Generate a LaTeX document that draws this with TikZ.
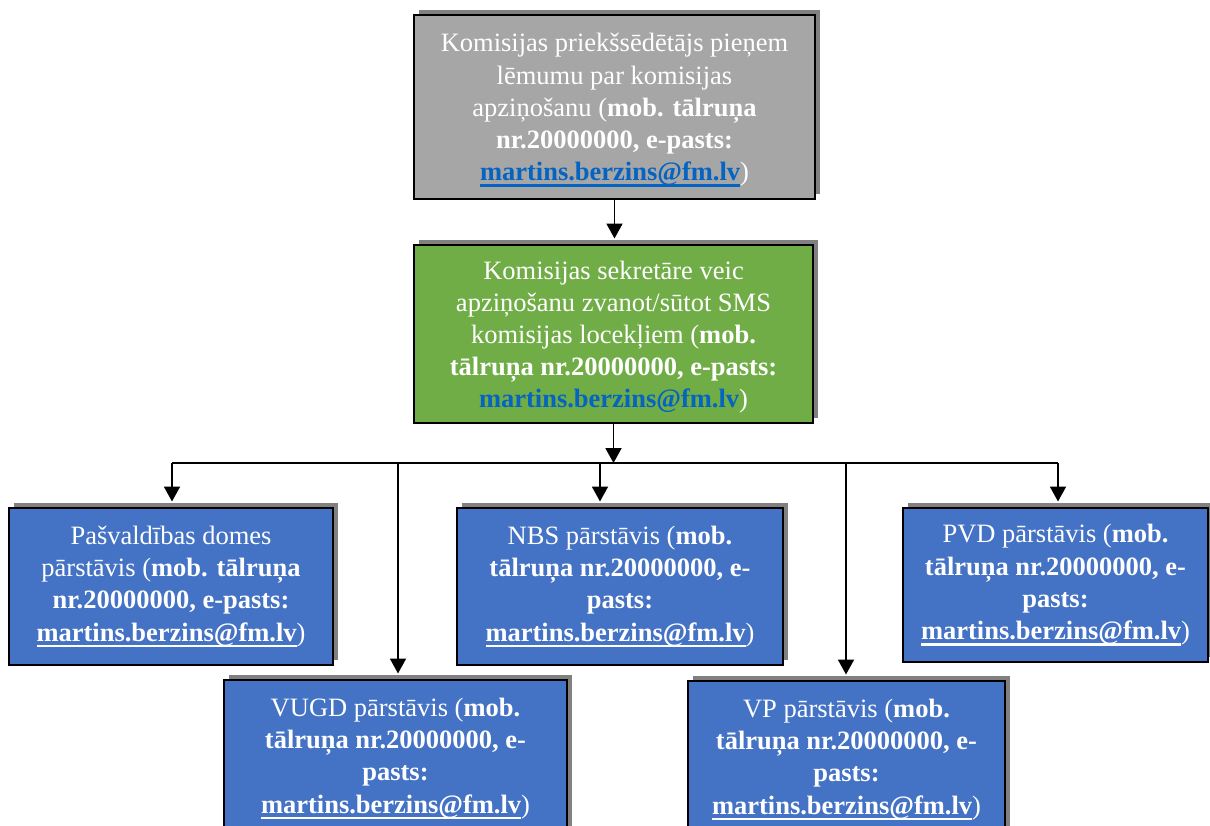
\documentclass[tikz,border=0pt]{standalone}
\usepackage{fontspec}
\setmainfont{Liberation Serif}
\usetikzlibrary{shadows,arrows.meta}
\definecolor{boxgray}{HTML}{A6A6A6}
\definecolor{boxgreen}{HTML}{70AD47}
\definecolor{boxblue}{HTML}{4472C4}
\definecolor{shadowgray}{HTML}{808080}
\definecolor{linkblue}{HTML}{0563C1}
\newcommand\myul[1]{\setbox0\hbox{#1}\rlap{\rule[-6pt]{\wd0}{2.2pt}}\box0}
\newcommand\wmail{\myul{\textbf{martins.berzins@fm.lv}}}
\newcommand\topstrut{\rule{0pt}{24.5pt}}
\tikzset{
  card/.style={draw=black, line width=2pt, text=white, align=center, inner sep=0pt,
    font=\fontsize{26.5}{32.2}\selectfont,
    general shadow={fill=shadowgray, shadow xshift=5pt, shadow yshift=5.5pt}},
  conn/.style={line width=1.9pt, -{Triangle[width=16pt,length=15pt]}},
  tobox/.style={conn, shorten >=5.5pt},
  plain/.style={line width=1.9pt},
}
\begin{document}
\begin{tikzpicture}[x=1pt,y=-1pt]
\path[use as bounding box] (0,0) rectangle (1210,825);
\clip (0,0) rectangle (1210,825);
\node[card, fill=boxgray, minimum width=401pt, minimum height=184pt] (chair) at (614.5,107)
  {\topstrut Komisijas priekšsēdētājs pieņem\\ lēmumu par komisijas\\ apziņošanu (\textbf{mob. tālruņa}\\ \textbf{nr.20000000, e-pasts:}\\ \textcolor{linkblue}{\myul{\textbf{martins.berzins@fm.lv}}})};
\node[card, fill=boxgreen, minimum width=399pt, minimum height=178pt] (sec) at (613.5,334)
  {\topstrut Komisijas sekretāre veic\\ apziņošanu zvanot/sūtot SMS\\ komisijas locekļiem (\textbf{mob.}\\ \textbf{tālruņa nr.20000000, e-pasts:}\\ \textcolor{linkblue}{\textbf{martins.berzins@fm.lv}})};
\node[card, fill=boxblue, minimum width=324pt, minimum height=157pt] (pasv) at (171,586.5)
  {Pašvaldības domes\\ pārstāvis (\textbf{mob. tālruņa}\\ \textbf{nr.20000000, e-pasts:}\\ \wmail)};
\node[card, fill=boxblue, minimum width=326pt, minimum height=157pt] (nbs) at (620,586.5)
  {NBS pārstāvis (\textbf{mob.}\\ \textbf{tālruņa nr.20000000, e-}\\ \textbf{pasts:}\\ \wmail)};
\node[card, fill=boxblue, minimum width=305pt, minimum height=154pt] (pvd) at (1055.5,585)
  {PVD pārstāvis (\textbf{mob.}\\ \textbf{tālruņa nr.20000000, e-}\\ \textbf{pasts:}\\ \wmail)};
\node[card, fill=boxblue, minimum width=343pt, minimum height=157pt] (vugd) at (395.5,758.5)
  {VUGD pārstāvis (\textbf{mob.}\\ \textbf{tālruņa nr.20000000, e-}\\ \textbf{pasts:}\\ \wmail)};
\node[card, fill=boxblue, minimum width=317pt, minimum height=157pt] (vp) at (846.5,759.5)
  {VP pārstāvis (\textbf{mob.}\\ \textbf{tālruņa nr.20000000, e-}\\ \textbf{pasts:}\\ \wmail)};
\coordinate (J) at (613,463);
\coordinate (bL) at (172,463);
\coordinate (bV) at (398,463);
\coordinate (bN) at (600,463);
\coordinate (bP) at (846,463);
\coordinate (bR) at (1058,463);
\draw[tobox] (chair.south) -- (chair.south |- sec.north);
\draw[conn] (sec.south) -- (sec.south |- J);
\draw[plain] (bL) -- (bR);
\draw[tobox] (bL) -- (bL |- pasv.north);
\draw[tobox] (bV) -- (bV |- vugd.north);
\draw[tobox] (bN) -- (bN |- nbs.north);
\draw[tobox] (bP) -- (bP |- vp.north);
\draw[tobox] (bR) -- (bR |- pvd.north);
\end{tikzpicture}
\end{document}
